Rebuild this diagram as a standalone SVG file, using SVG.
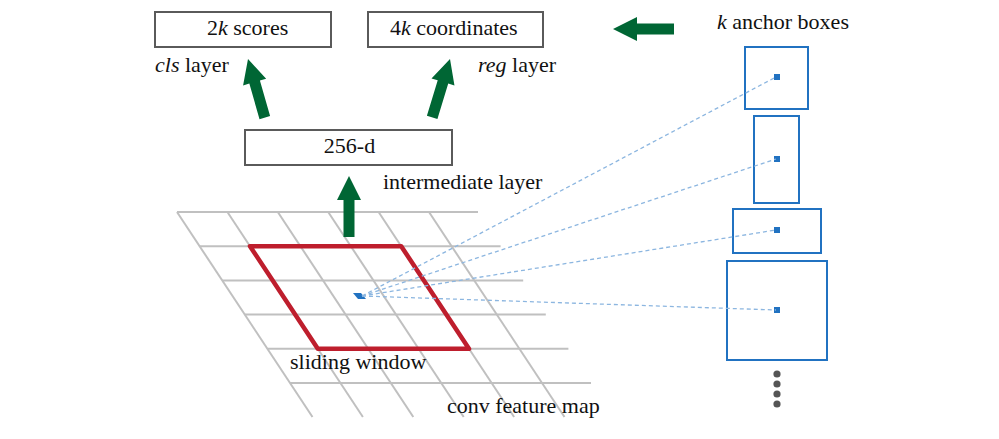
<svg xmlns="http://www.w3.org/2000/svg" width="999" height="439" viewBox="0 0 999 439">
<style>
.t{font-family:'Liberation Serif','DejaVu Serif',serif;font-size:22px;fill:#111}
.box{fill:#fff;stroke:#5a5a5a;stroke-width:2}
.grid line{stroke:#c0c0c0;stroke-width:2}
.anchor{fill:none;stroke:#2172c1;stroke-width:2}
.dot{fill:#2172c1}
.dash{stroke:#8cb6e0;stroke-width:1.3;stroke-dasharray:4 3;fill:none}
.garrow{fill:#006634}
.more{fill:#555}
</style>
<defs>
<path id="arr" d="M0,0 L12,24 L5.5,24 L5.5,61 L-5.5,61 L-5.5,24 L-12,24 Z"/>
</defs>
<rect width="999" height="439" fill="#fff"/>
<g id="feature-map" class="grid">
<line x1="177" y1="212" x2="478" y2="212"/>
<line x1="199.6" y1="246.2" x2="500.6" y2="246.2"/>
<line x1="222.2" y1="280.4" x2="523.2" y2="280.4"/>
<line x1="244.8" y1="314.6" x2="545.8" y2="314.6"/>
<line x1="267.4" y1="348.8" x2="568.4" y2="348.8"/>
<line x1="290" y1="383" x2="591" y2="383"/>
<line x1="177" y1="212" x2="312.5" y2="417"/>
<line x1="227.4" y1="212" x2="362.9" y2="417"/>
<line x1="277.8" y1="212" x2="413.3" y2="417"/>
<line x1="328.2" y1="212" x2="463.7" y2="417"/>
<line x1="378.6" y1="212" x2="514.1" y2="417"/>
<line x1="429" y1="212" x2="564.5" y2="417"/>
</g>
<g id="sliding-window">
<polygon points="250,246.2 401.2,246.2 469,348.8 317.8,348.8" fill="none" stroke="#be1e2d" stroke-width="4.5" stroke-linejoin="round"/>
<polygon points="353,293 361,293 366,299 358,299" class="dot"/>
<text class="t" font-family="Liberation Serif, serif" x="290" y="369">sliding window</text>
</g>
<g id="conv-label"><text class="t" font-family="Liberation Serif, serif" x="447" y="413">conv feature map</text></g>
<g id="intermediate">
<rect class="box" x="245" y="130" width="207" height="35"/>
<text class="t" font-family="Liberation Serif, serif" x="349.5" y="153" text-anchor="middle">256-d</text>
<text class="t" font-family="Liberation Serif, serif" x="383" y="189">intermediate layer</text>
</g>
<g id="cls">
<rect class="box" x="155" y="12" width="176" height="35"/>
<text class="t" font-family="Liberation Serif, serif" x="207" y="35">2<tspan font-style="italic">k</tspan> scores</text>
<text class="t" font-family="Liberation Serif, serif" x="155" y="72"><tspan font-style="italic">cls</tspan> layer</text>
</g>
<g id="reg">
<rect class="box" x="368" y="12" width="175" height="35"/>
<text class="t" font-family="Liberation Serif, serif" x="390" y="35">4<tspan font-style="italic">k</tspan> coordinates</text>
<text class="t" font-family="Liberation Serif, serif" x="478" y="72"><tspan font-style="italic">reg</tspan> layer</text>
</g>
<g id="anchors">
<text class="t" font-family="Liberation Serif, serif" x="717" y="29"><tspan font-style="italic">k</tspan> anchor boxes</text>
<rect class="anchor" x="745" y="47" width="63" height="62"/>
<rect class="anchor" x="754" y="116" width="45" height="87"/>
<rect class="anchor" x="733" y="209" width="88" height="44"/>
<rect class="anchor" x="727" y="261" width="100" height="99"/>
<rect class="dot" x="774" y="74" width="6" height="6"/>
<rect class="dot" x="774" y="156" width="6" height="6"/>
<rect class="dot" x="774" y="227" width="6" height="6"/>
<rect class="dot" x="774" y="307" width="6" height="6"/>
<circle class="more" cx="777" cy="374" r="3.6"/>
<circle class="more" cx="777" cy="384" r="3.6"/>
<circle class="more" cx="777" cy="394" r="3.6"/>
<circle class="more" cx="777" cy="404" r="3.6"/>
</g>
<g id="connectors">
<line class="dash" x1="362" y1="296" x2="776" y2="77"/>
<line class="dash" x1="362" y1="296" x2="776" y2="159"/>
<line class="dash" x1="362" y1="296" x2="776" y2="230"/>
<line class="dash" x1="362" y1="296" x2="776" y2="310"/>
<use href="#arr" class="garrow" transform="translate(349,176)"/>
<use href="#arr" class="garrow" transform="translate(248,59) rotate(-16)"/>
<use href="#arr" class="garrow" transform="translate(450,59) rotate(17)"/>
<use href="#arr" class="garrow" transform="translate(613,29) rotate(-90)"/>
</g>
</svg>
